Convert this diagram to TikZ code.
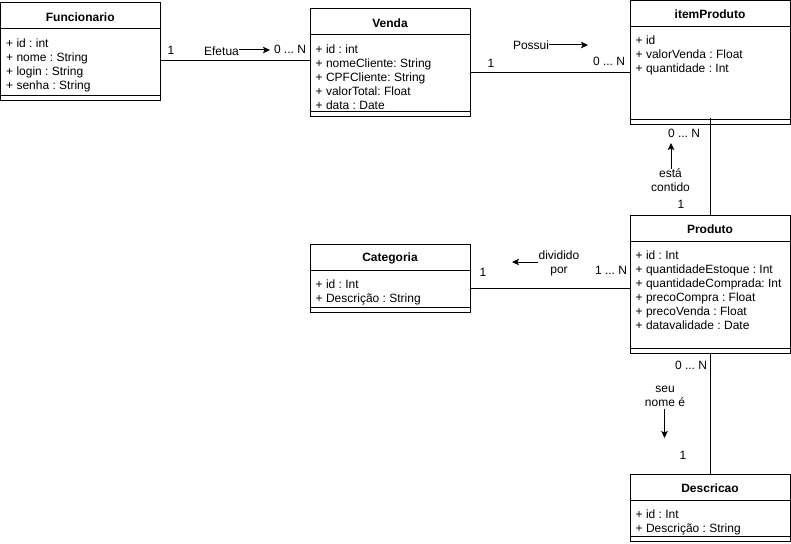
\documentclass[tikz,border=0pt]{standalone}
\usepackage{fontspec}
\setmainfont{Liberation Sans}
\usetikzlibrary{fit,arrows.meta}
\frenchspacing
\newcommand\umlbox[7]{%
  \node[cls, fit={(#2,#3) (#4,#5)}] (#1) {};
  \draw[line width=1pt] ({#2},{#3+26}) -- ({#4},{#3+26});
  \draw[line width=1pt] ({#2},{#5-5}) -- ({#4},{#5-5});
  \node[ttl] (#1-title) at ({(#2+#4)/2},{#3+14}) {#6};
  \node[attr] (#1-attrs) at ({#2+5.5},{#3+26+8}) {\strut #7};
}
\begin{document}
\frenchspacing
\begin{tikzpicture}[x=1pt,y=-1pt,
  cls/.style={draw, line width=1pt, inner sep=0pt},
  ttl/.style={font=\fontsize{12}{14}\selectfont\bfseries, inner sep=0pt},
  attr/.style={font=\fontsize{12}{14}\selectfont\frenchspacing, align=left, inner sep=0pt, anchor=north west},
  lbl/.style={font=\fontsize{12}{14}\selectfont\frenchspacing, inner sep=0pt, align=center},
  conn/.style={line width=1pt},
  dirarrow/.style={line width=1pt, -{Stealth[length=7pt,width=6.5pt,inset=1.5pt]}}]
\useasboundingbox (0,0) rectangle (791,543);

\umlbox{fun}{0.5}{3}{160}{100}{Funcionario}{+ id : int\\+ nome : String\\+ login : String\\+ senha : String}
\umlbox{venda}{310}{9}{470}{116}{Venda}{+ id : int\\+ nomeCliente: String\\+ CPFCliente: String\\+ valorTotal: Float\\+ data : Date}
\umlbox{item}{630}{0.5}{790}{124}{itemProduto}{+ id\\+ valorVenda : Float\\+ quantidade : Int}
\umlbox{prod}{630}{215}{790}{353}{Produto}{+ id : Int\\+ quantidadeEstoque : Int\\+ quantidadeComprada: Int\\+ precoCompra : Float\\+ precoVenda : Float\\+ datavalidade : Date}
\umlbox{cat}{310}{244}{470}{312}{Categoria}{+ id : Int\\+ Descrição : String}
\umlbox{desc}{630}{474}{790}{541.5}{Descricao}{+ id : Int\\+ Descrição : String}

% connectors
\draw[conn] (fun.east |- 0,60) -- (venda.west |- 0,60);
\draw[conn] (venda.east |- 0,72) -- (item.west |- 0,72);
\draw[conn] ([yshift=7pt]item.south) -- (prod.north);
\draw[conn] (cat.east |- 0,288.5) -- (prod.west |- 0,288.5);
\draw[conn] (prod.south) -- (desc.north);

% Funcionario - Venda labels
\node[lbl] (fv1) at (171,50) {1};
\node[lbl] (efetua) at (221.5,51) {Efetua};
\coordinate (efTip) at (270,50);
\draw[dirarrow] (efetua.east |- efTip) -- (efTip);
\node[lbl] (fvN) at (290,49) {0 ... N};

% Venda - itemProduto labels
\node[lbl] (vi1) at (491,63) {1};
\node[lbl] (possui) at (531,45) {Possui};
\coordinate (poTip) at (588,45);
\draw[dirarrow] (possui.east |- poTip) -- (poTip);
\node[lbl] (viN) at (609,61) {0 ... N};

% itemProduto - Produto labels
\node[lbl] (ipN) at (684,133) {0 ... N};
\node[lbl] (esta) at (670.5,180.5) {está\\contido};
\coordinate (esTip) at (671,143);
\draw[dirarrow] (esTip |- esta.north) -- (esTip);
\node[lbl] (ip1) at (681,204) {1};

% Categoria - Produto labels
\node[lbl] (cp1) at (483,272.5) {1};
\node[lbl] (divid) at (559,263.5) {dividido\\por};
\coordinate (dvTip) at (512,262);
\draw[dirarrow] (divid.west |- dvTip) -- (dvTip);
\node[lbl] (cpN) at (611,270) {1 ... N};

% Produto - Descricao labels
\node[lbl] (pdN) at (691,365) {0 ... N};
\node[lbl] (seu) at (665,396) {seu\\nome é};
\coordinate (seTip) at (664.5,438);
\draw[dirarrow] ([yshift=-3pt]seu.south -| seTip) -- (seTip);
\node[lbl] (pd1) at (683,455) {1};
\end{tikzpicture}
\end{document}
